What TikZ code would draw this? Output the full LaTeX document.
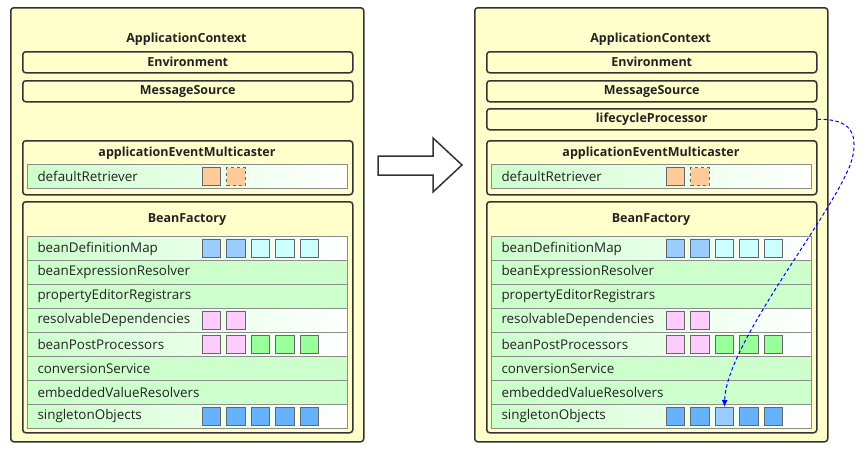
\documentclass[tikz,border=0pt]{standalone}
\usepackage{fontspec}
\setmainfont{Open Sans}
\usetikzlibrary{arrows.meta}
\definecolor{ctxyellow}{HTML}{FFFFCC}
\definecolor{rowgreen}{HTML}{CCFFCC}
\definecolor{boxline}{HTML}{333333}
\definecolor{rowline}{HTML}{8C8C8C}
\definecolor{sqline}{HTML}{666666}
\definecolor{sqorange}{HTML}{FFCC99}
\definecolor{sqblue}{HTML}{99CCFF}
\definecolor{sqcyan}{HTML}{CCFFFF}
\definecolor{sqpink}{HTML}{FFCCFF}
\definecolor{sqgreen}{HTML}{99FF99}
\definecolor{sqdeep}{HTML}{66B2FF}
\definecolor{linkblue}{HTML}{0000FF}
\definecolor{txt}{HTML}{222222}
\tikzset{
 outerbox/.style={draw=boxline, line width=1.5pt, fill=ctxyellow, rounded corners=3pt, anchor=north west, inner sep=0pt},
 innerbox/.style={draw=boxline, line width=1.5pt, fill=ctxyellow, rounded corners=3pt, minimum width=330pt, minimum height=21pt, anchor=north west, inner sep=0pt, text=txt, font=\bfseries\fontsize{12.5}{14}\selectfont},
 groupbox/.style={draw=boxline, line width=1.5pt, fill=ctxyellow, rounded corners=3pt, minimum width=330pt, anchor=north west, inner sep=0pt},
 titletext/.style={text=txt, font=\bfseries\fontsize{12.5}{14}\selectfont},
 rowbox/.style={draw=rowline, line width=1pt, minimum width=320pt, minimum height=24pt, anchor=north west, inner xsep=10pt, inner ysep=0pt, text width=300pt, align=left, text=txt, font=\fontsize{13.4}{15}\selectfont},
 rowplain/.style={rowbox, fill=rowgreen},
 rowgrad/.style={rowbox, left color=rowgreen, right color=white},
 sq/.style={draw=sqline, line width=1pt, minimum width=18.5pt, minimum height=18pt, inner sep=0pt},
 bigarrow/.style={draw=boxline, line width=1.5pt, fill=white, line join=miter},
 link/.style={draw=linkblue, line width=1pt, dash pattern=on 3.5pt off 2.5pt, -{Latex[length=7pt,width=6pt]}},
}
% #1 panel prefix, #2 row name, #3 list of square colours
\newcommand{\sqrow}[3]{%
  \foreach \c [count=\k] in {#3} {
    \node[sq, fill=\c] (#1#2sq\k) at ([xshift={(184.5+24.5*(\k-1))*1pt}]#1#2.west) {};
  }%
}
% #1 panel prefix, #2 colour of third singleton square
\newcommand{\ctxpanel}[2]{%
  \node[outerbox, minimum width=353pt, minimum height=434pt] (#1ctx) at (10,7) {};
  \node[titletext] (#1ctxtitle) at (186.5,39.5) {ApplicationContext};
  \node[innerbox] (#1env) at (22,51) {Environment};
  \node[innerbox] (#1msg) at (22,80) {MessageSource};
  \node[groupbox, minimum height=54pt] (#1mc) at (22,140) {};
  \node[titletext] (#1mctitle) at (187,153.5) {applicationEventMulticaster};
  \node[rowgrad] (#1dr) at (27,164) {defaultRetriever};
  \node[sq, fill=sqorange] (#1drsq1) at ([xshift=184.5pt]#1dr.west) {};
  \node[sq, fill=sqorange, dashed] (#1drsq2) at ([xshift=209pt]#1dr.west) {};
  \node[groupbox, minimum height=231pt] (#1bf) at (22,201) {};
  \node[titletext] (#1bftitle) at (187,220) {BeanFactory};
  \node[rowgrad]  (#1bdm) at (27,236) {beanDefinitionMap};
  \node[rowplain] (#1ber) at (27,260) {beanExpressionResolver};
  \node[rowplain] (#1per) at (27,284) {propertyEditorRegistrars};
  \node[rowgrad]  (#1rd)  at (27,308) {resolvableDependencies};
  \node[rowgrad]  (#1bpp) at (27,332) {beanPostProcessors};
  \node[rowplain] (#1cs)  at (27,356) {conversionService};
  \node[rowplain] (#1evr) at (27,380) {embeddedValueResolvers};
  \node[rowgrad]  (#1so)  at (27,404) {singletonObjects};
  \sqrow{#1}{bdm}{sqblue,sqblue,sqcyan,sqcyan,sqcyan}
  \sqrow{#1}{rd}{sqpink,sqpink}
  \sqrow{#1}{bpp}{sqpink,sqpink,sqgreen,sqgreen,sqgreen}
  \sqrow{#1}{so}{sqdeep,sqdeep,#2,sqdeep,sqdeep}
}
\begin{document}
\begin{tikzpicture}[x=1pt,y=-1pt]
\useasboundingbox (0,0) rectangle (862,453);
\fill[white] (0,0) rectangle (862,453);
\begin{scope}
  \ctxpanel{L}{sqdeep}
\end{scope}
\begin{scope}[xshift=464pt]
  \ctxpanel{R}{sqblue}
  \node[innerbox] (Rlc) at (22,108) {lifecycleProcessor};
\end{scope}
\draw[bigarrow] (378,156) -- (433,156) -- (433,138) -- (462,165) -- (433,192) -- (433,175) -- (378,175) -- cycle;
\draw[link] (Rlc.east) .. controls (845,119) and (858,128) .. (853,155)
  .. controls (845,200) and (726,340) .. (Rsosq3.north);
\end{tikzpicture}
\end{document}
